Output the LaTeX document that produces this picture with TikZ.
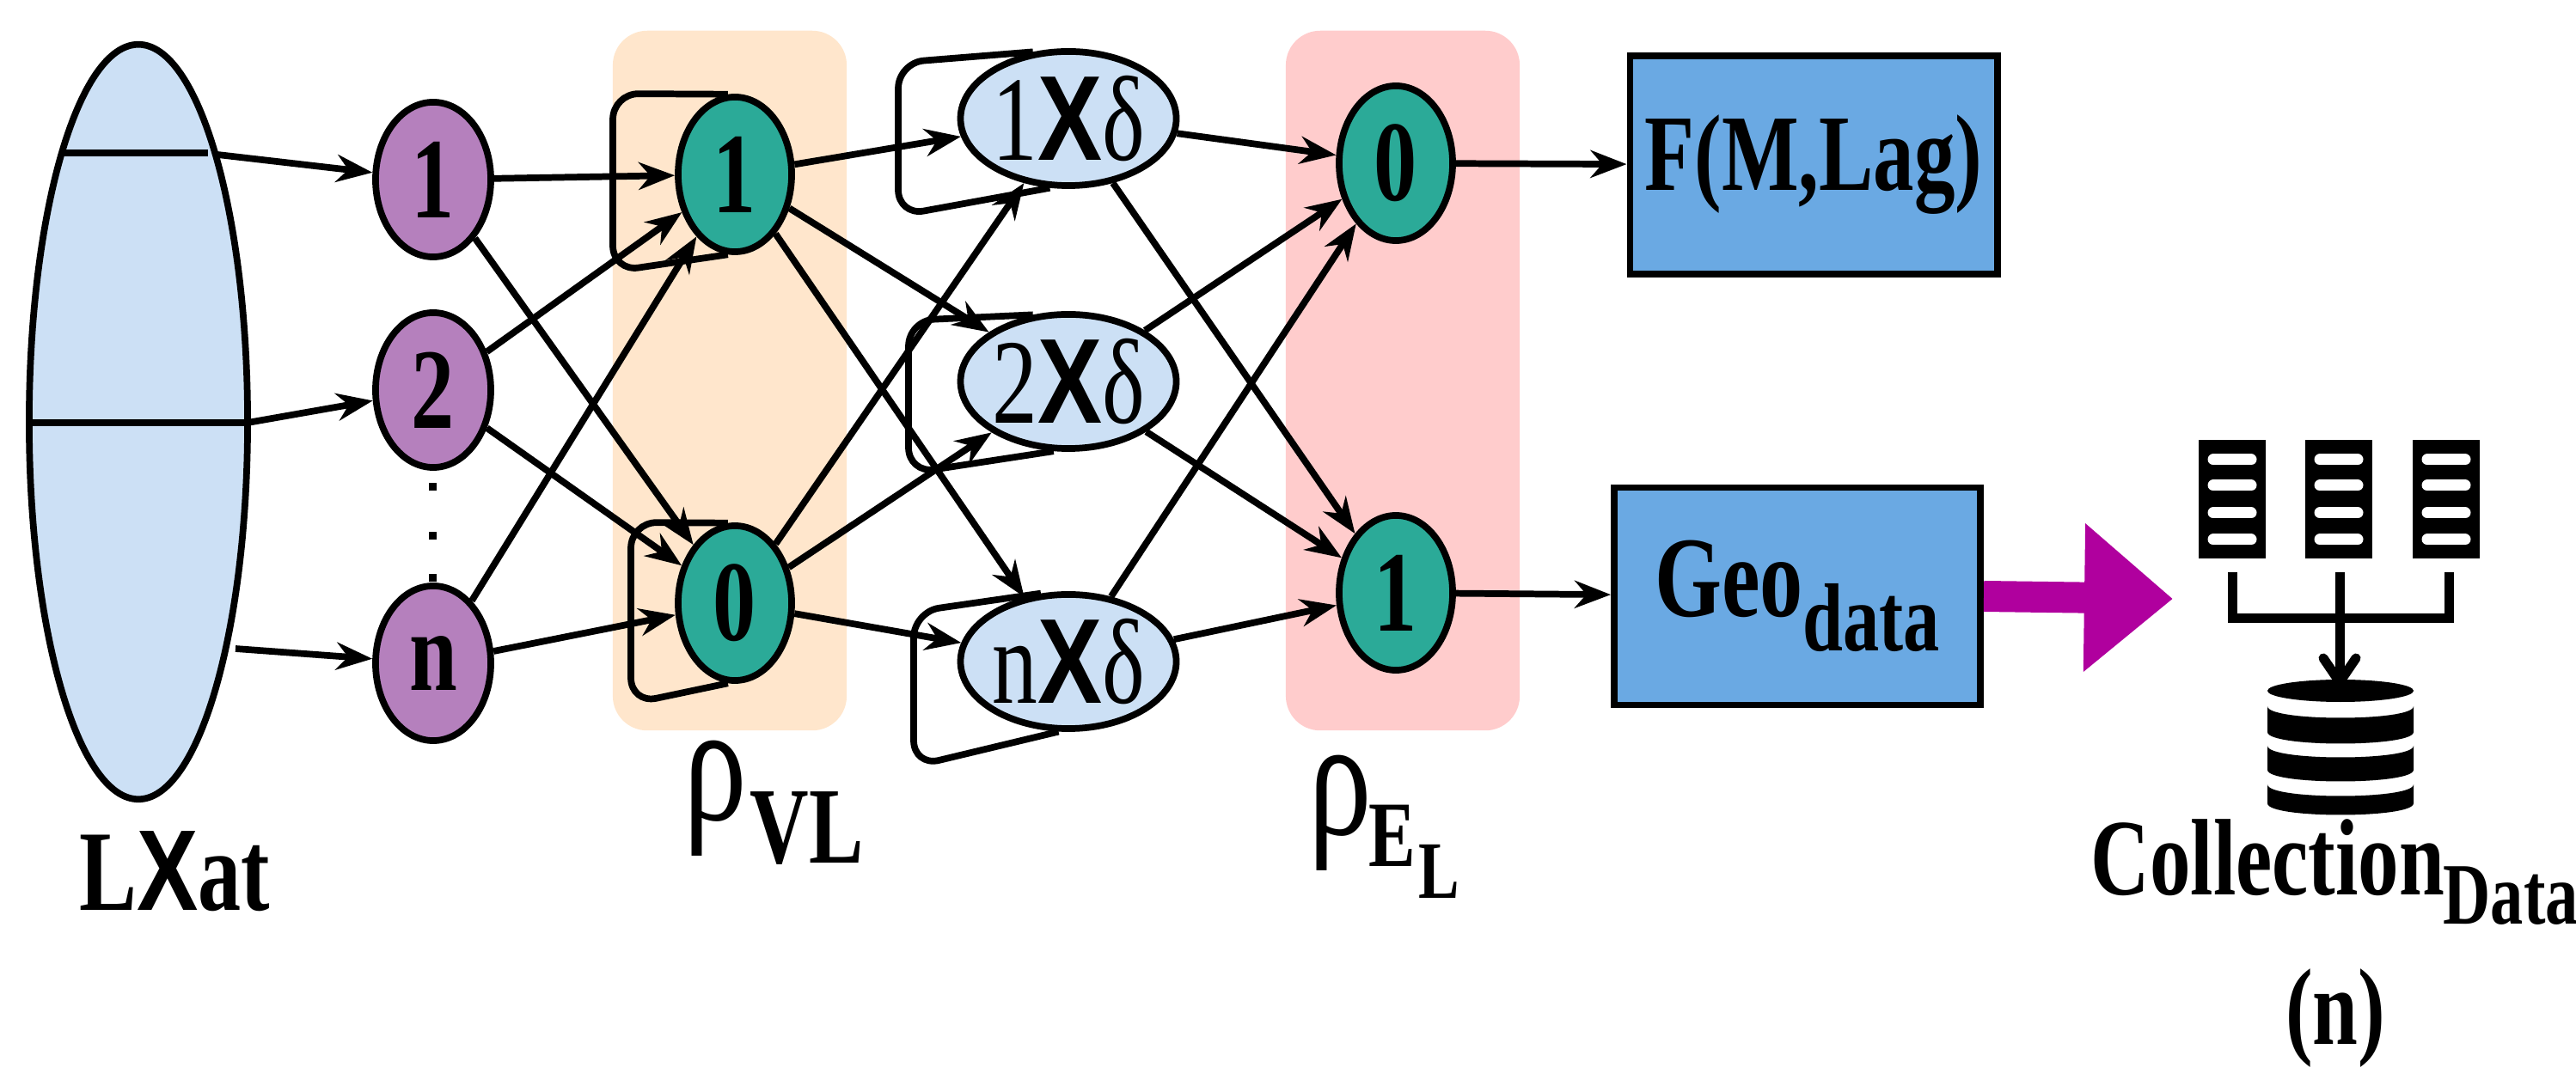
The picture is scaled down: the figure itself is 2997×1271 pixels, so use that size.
\documentclass[tikz,border=0pt]{standalone}
\usepackage{fontspec}
\setmainfont{Liberation Serif}[FakeStretch=0.75]
\newfontfamily\sx{Liberation Sans}[FakeStretch=0.8]
\usetikzlibrary{shapes.geometric,arrows.meta}
\newcommand\fs[1]{\fontsize{#1}{#1}\selectfont}
\definecolor{pur}{HTML}{B580BD}
\definecolor{grn}{HTML}{2BAA98}
\definecolor{lbl}{HTML}{CCE0F5}
\definecolor{org}{HTML}{FFE6CC}
\definecolor{rdb}{HTML}{FFCCCC}
\definecolor{bbx}{HTML}{6AA9E3}
\definecolor{mag}{HTML}{B0009E}
\begin{document}
\begin{tikzpicture}[x=0.01cm,y=-0.01cm,
  arr/.style={-{Stealth[length=0.42cm,width=0.32cm]},line width=2.2pt},
  pn/.style={ellipse,draw,line width=2.2pt,fill=pur,minimum width=1.34cm,minimum height=1.8cm,inner sep=0pt,font=\fs{38}\bfseries},
  gn/.style={ellipse,draw,line width=2.2pt,fill=grn,minimum width=1.32cm,minimum height=1.8cm,inner sep=0pt,font=\fs{38}\bfseries},
  xn/.style={ellipse,draw,line width=2.2pt,fill=lbl,minimum width=2.1cm,minimum height=1.56cm,inner sep=0pt,font=\fs{40}},
  bx/.style={draw,line width=2.2pt,fill=bbx,inner sep=0pt},
  lp/.style={line width=2.2pt,rounded corners=0.3cm},
  bar/.style={white,line width=0.13cm,line cap=round}]
\useasboundingbox (0,0) rectangle (2997,1271);
% backgrounds
\node[fill=org,rounded corners=0.4cm,minimum width=2.72cm,minimum height=8.14cm,inner sep=0pt] (bgv) at (849,443) {};
\node[fill=rdb,rounded corners=0.4cm,minimum width=2.72cm,minimum height=8.14cm,inner sep=0pt] (bge) at (1632,443) {};
% LXat
\node[ellipse,draw,line width=2.2pt,fill=lbl,minimum width=2.54cm,minimum height=8.78cm,inner sep=0pt] (lx) at (161,491) {};
\coordinate (l1a) at (73,178); \coordinate (l1b) at (242,178);
\coordinate (l2a) at (34,492); \coordinate (l2b) at (288,492);
\draw[line width=2.2pt] (l1a) -- (l1b);
\draw[line width=2.2pt] (l2a) -- (l2b);
\node[anchor=base,font=\fs{38}\bfseries] (lxt) at (203,1060) {L{\sx X}at};
% purple
\node[pn] (p1) at (504,209) {1};
\node[pn] (p2) at (504,454) {2};
\node[pn] (pn) at (504,772) {n};
\foreach \yy/\nm in {567/d1,624/d2,673/d3}{\node[fill=black,minimum size=0.09cm,inner sep=0pt] (\nm) at (503,\yy) {};}
% green VL
\node[gn] (v1) at (855,203) {1};
\node[gn] (v0) at (855,702) {0};
% X delta
\node[xn] (x1) at (1243,138) {1{\sx\bfseries X}δ};
\node[xn] (x2) at (1243,444) {2{\sx\bfseries X}δ};
\node[xn] (x3) at (1243,770) {n{\sx\bfseries X}δ};
% green EL
\node[gn] (e0) at (1624,190) {0};
\node[gn] (e1) at (1624,690) {1};
% boxes
\node[bx,minimum width=4.27cm,minimum height=2.54cm,font=\fs{36}\bfseries] (fb) at (2110,192) {F(M,Lag)};
\node[bx,minimum width=4.26cm,minimum height=2.53cm,font=\fs{38}\bfseries] (gb) at (2091,694) {Geo\raisebox{-0.3em}{\fs{32}data}};
% rho labels
\node[anchor=base west,inner sep=0pt,font=\fs{56}] (rv) at (795,955) {ρ};
\node[anchor=base west,inner sep=0pt,font=\fs{36}\bfseries] (rvs) at (872,1005) {VL};
\node[anchor=base west,inner sep=0pt,font=\fs{56}] (re) at (1522,972) {ρ};
\node[anchor=base west,inner sep=0pt,font=\fs{31}\bfseries] (res) at (1592,1009) {E};
\node[anchor=base west,inner sep=0pt,font=\fs{27}\bfseries] (ress) at (1650,1046) {L};
% LXat edges
\coordinate (s1) at (253,180); \coordinate (s2) at (288,492); \coordinate (s3) at (274,755);
\draw[arr] (s1) -- (p1);
\draw[arr] (s2) -- (p2);
\draw[arr] (s3) -- (pn);
% loops VL
\coordinate (lv1a) at (713,109); \coordinate (lv1b) at (713,316);
\draw[lp] (v1.95) -- (lv1a) -- (lv1b) -- (v1.265);
\coordinate (lv0a) at (734,608); \coordinate (lv0b) at (734,819);
\draw[lp] (v0.95) -- (lv0a) -- (lv0b) -- (v0.265);
% purple -> VL
\foreach \a in {p1,p2,pn}{\draw[arr] (\a) -- (v1); \draw[arr] (\a) -- (v0);}
% loops X
\coordinate (lx1a) at (1045,73); \coordinate (lx1b) at (1045,251);
\draw[lp] (x1.118) -- (lx1a) -- (lx1b) -- (x1.255);
\coordinate (lx2a) at (1057,373); \coordinate (lx2b) at (1057,551);
\draw[lp] (x2.118) -- (lx2a) -- (lx2b) -- (x2.258);
\coordinate (lx3a) at (1063,712); \coordinate (lx3b) at (1063,892);
\draw[lp] (x3.112) -- (lx3a) -- (lx3b) -- (x3.262);
% VL -> X
\foreach \a in {v1,v0}{\foreach \b in {x1,x2,x3}{\draw[arr] (\a) -- (\b);}}
% X -> EL
\foreach \a in {x1,x2,x3}{\draw[arr] (\a) -- (e0); \draw[arr] (\a) -- (e1);}
% EL -> boxes
\draw[arr] (e0) -- (fb);
\draw[arr] (e1) -- (gb);
% big arrow
\coordinate (gt) at (2528,697);
\draw[mag,line width=0.36cm,-{Triangle[length=1.03cm,width=1.66cm]}] (gb.east) -- (gt);
% documents
\foreach \xx/\nm in {2597/dc1,2721/dc2,2846/dc3}{
  \node[fill=black,minimum width=0.78cm,minimum height=1.38cm,inner sep=0pt] (\nm) at (\xx,581) {};
  \foreach \yy in {535,565,597,628}{\draw[bar] (\xx-22,\yy) -- (\xx+22,\yy);}
}
\coordinate (c1) at (2597,720); \coordinate (c3) at (2849,720);
\coordinate (m1) at (2722,666); \coordinate (m2) at (2722,794);
\draw[line width=0.11cm] (2597,666) -- (c1) -- (c3) -- (2849,666);
\draw[line width=0.11cm] (m1) -- (m2);
\draw[line width=0.11cm,line cap=round,line join=miter] (2703,766) -- (m2) -- (2741,766);
% database
\fill (2723,804) ellipse [x radius=0.85cm,y radius=0.13cm];
\foreach \t/\b in {822/852,868/896,913/935}{
  \fill (2638,\t) -- (2638,\b) .. controls (2638,\b+18) and (2808,\b+18) .. (2808,\b) -- (2808,\t) .. controls (2808,\t+18) and (2638,\t+18) .. (2638,\t) -- cycle;}
\node[anchor=base west,inner sep=0pt,font=\fs{36}\bfseries] (ct) at (2432,1042) {Collection};
\node[anchor=base west,inner sep=0pt,font=\fs{29}\bfseries] (cts) at (2842,1076) {Data};
\node[font=\fs{36}\bfseries] (cn) at (2717,1185) {(n)};
\end{tikzpicture}
\end{document}
